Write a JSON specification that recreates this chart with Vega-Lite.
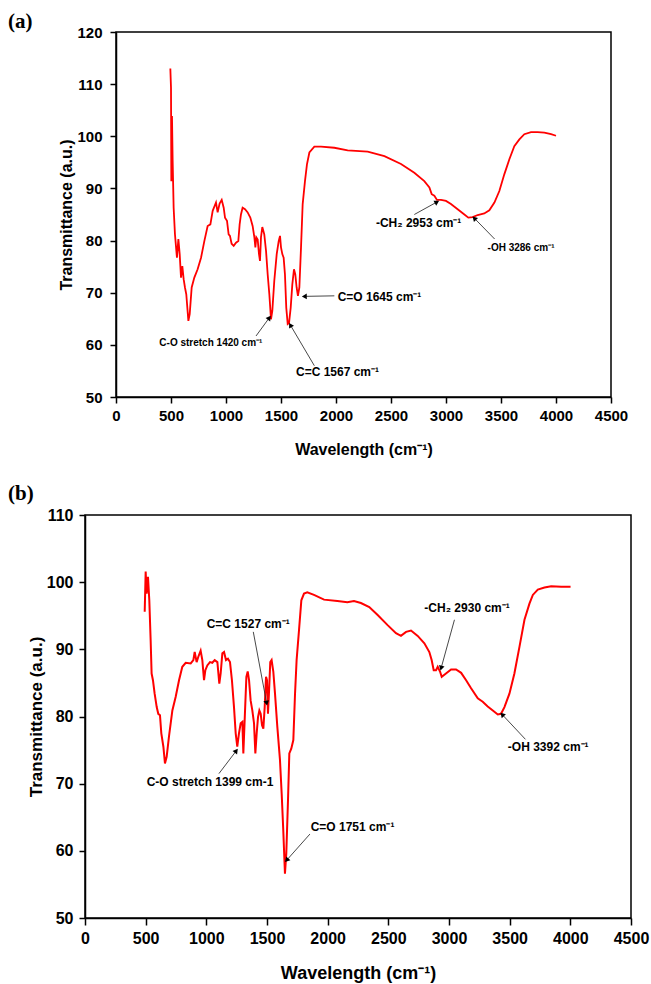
{
  "$schema": "https://vega.github.io/schema/vega-lite/v6.json",
  "background": "white",
  "padding": {"left": 6, "top": 10, "right": 5, "bottom": 0},
  "spacing": 24,
  "config": {
    "view": {"stroke": "black", "strokeWidth": 1.5},
    "axis": {"domainColor": "black", "domainWidth": 1.5, "tickColor": "black", "tickWidth": 1.5, "labelFont": "Liberation Sans", "labelFontWeight": "bold", "labelColor": "black", "titleFont": "Liberation Sans", "titleFontWeight": "bold", "titleColor": "black", "grid": false, "labelFlush": false, "labelOverlap": false, "format": "d"},
    "title": {"font": "Liberation Serif", "fontWeight": "bold", "fontSize": 21, "anchor": "start", "frame": "group", "color": "black"}
  },
  "datasets": {
    "empty": [],
    "specA": [
      {"wn": 494, "t": 113.0}, {"wn": 500, "t": 109.3}, {"wn": 503, "t": 91.4}, {"wn": 509, "t": 103.9}, {"wn": 515, "t": 95.3}, {"wn": 524, "t": 86.3}, {"wn": 536, "t": 81.2}, {"wn": 554, "t": 76.7}, {"wn": 567, "t": 80.3}, {"wn": 579, "t": 77.4}, {"wn": 591, "t": 72.9}, {"wn": 603, "t": 75.1}, {"wn": 615, "t": 72.6}, {"wn": 627, "t": 71.0}, {"wn": 639, "t": 69.7}, {"wn": 658, "t": 64.6}, {"wn": 670, "t": 65.9}, {"wn": 688, "t": 71.0}, {"wn": 712, "t": 72.9}, {"wn": 742, "t": 74.5}, {"wn": 773, "t": 76.7}, {"wn": 803, "t": 79.9}, {"wn": 833, "t": 82.8}, {"wn": 858, "t": 83.1}, {"wn": 879, "t": 85.7}, {"wn": 909, "t": 87.3}, {"wn": 924, "t": 85.4}, {"wn": 942, "t": 87.1}, {"wn": 961, "t": 87.8}, {"wn": 979, "t": 86.3}, {"wn": 991, "t": 84.4}, {"wn": 1009, "t": 83.8}, {"wn": 1024, "t": 81.2}, {"wn": 1036, "t": 80.9}, {"wn": 1051, "t": 79.4}, {"wn": 1070, "t": 79.0}, {"wn": 1091, "t": 79.6}, {"wn": 1112, "t": 79.9}, {"wn": 1124, "t": 83.1}, {"wn": 1136, "t": 85.0}, {"wn": 1151, "t": 86.3}, {"wn": 1173, "t": 86.0}, {"wn": 1197, "t": 85.4}, {"wn": 1221, "t": 84.4}, {"wn": 1242, "t": 82.8}, {"wn": 1258, "t": 80.6}, {"wn": 1267, "t": 78.7}, {"wn": 1276, "t": 80.6}, {"wn": 1288, "t": 80.2}, {"wn": 1300, "t": 77.4}, {"wn": 1309, "t": 76.1}, {"wn": 1318, "t": 80.6}, {"wn": 1330, "t": 82.6}, {"wn": 1348, "t": 81.2}, {"wn": 1364, "t": 78.0}, {"wn": 1379, "t": 73.5}, {"wn": 1394, "t": 69.7}, {"wn": 1409, "t": 64.9}, {"wn": 1421, "t": 66.5}, {"wn": 1439, "t": 72.3}, {"wn": 1461, "t": 77.4}, {"wn": 1479, "t": 79.9}, {"wn": 1491, "t": 80.9}, {"wn": 1500, "t": 78.7}, {"wn": 1512, "t": 77.4}, {"wn": 1524, "t": 76.7}, {"wn": 1536, "t": 73.5}, {"wn": 1548, "t": 67.1}, {"wn": 1561, "t": 64.0}, {"wn": 1573, "t": 64.2}, {"wn": 1588, "t": 67.1}, {"wn": 1603, "t": 71.6}, {"wn": 1618, "t": 74.5}, {"wn": 1630, "t": 73.5}, {"wn": 1642, "t": 71.0}, {"wn": 1654, "t": 69.4}, {"wn": 1667, "t": 71.0}, {"wn": 1682, "t": 78.7}, {"wn": 1697, "t": 87.0}, {"wn": 1718, "t": 91.4}, {"wn": 1736, "t": 94.6}, {"wn": 1758, "t": 96.9}, {"wn": 1803, "t": 98.0}, {"wn": 1864, "t": 98.0}, {"wn": 1985, "t": 97.8}, {"wn": 2106, "t": 97.3}, {"wn": 2288, "t": 97.05}, {"wn": 2440, "t": 96.2}, {"wn": 2591, "t": 94.7}, {"wn": 2712, "t": 93.0}, {"wn": 2803, "t": 91.4}, {"wn": 2849, "t": 90.2}, {"wn": 2870, "t": 88.9}, {"wn": 2894, "t": 88.6}, {"wn": 2918, "t": 87.8}, {"wn": 2955, "t": 87.8}, {"wn": 3000, "t": 87.6}, {"wn": 3045, "t": 87.0}, {"wn": 3106, "t": 86.0}, {"wn": 3167, "t": 85.0}, {"wn": 3203, "t": 84.4}, {"wn": 3243, "t": 84.5}, {"wn": 3288, "t": 84.9}, {"wn": 3348, "t": 85.2}, {"wn": 3394, "t": 85.8}, {"wn": 3440, "t": 87.3}, {"wn": 3485, "t": 89.5}, {"wn": 3530, "t": 92.7}, {"wn": 3576, "t": 95.6}, {"wn": 3621, "t": 98.1}, {"wn": 3667, "t": 99.4}, {"wn": 3712, "t": 100.4}, {"wn": 3773, "t": 100.8}, {"wn": 3833, "t": 100.8}, {"wn": 3894, "t": 100.7}, {"wn": 3955, "t": 100.4}, {"wn": 4000, "t": 100.1}
    ],
    "specB": [
      {"wn": 492, "t": 95.6}, {"wn": 500, "t": 101.6}, {"wn": 508, "t": 98.3}, {"wn": 519, "t": 100.8}, {"wn": 530, "t": 97.3}, {"wn": 541, "t": 91.4}, {"wn": 549, "t": 86.4}, {"wn": 560, "t": 85.4}, {"wn": 574, "t": 83.4}, {"wn": 591, "t": 81.4}, {"wn": 604, "t": 80.4}, {"wn": 618, "t": 80.2}, {"wn": 629, "t": 77.5}, {"wn": 646, "t": 75.5}, {"wn": 659, "t": 73.0}, {"wn": 673, "t": 74.0}, {"wn": 692, "t": 77.0}, {"wn": 720, "t": 80.9}, {"wn": 747, "t": 82.9}, {"wn": 775, "t": 85.4}, {"wn": 802, "t": 87.4}, {"wn": 830, "t": 88.0}, {"wn": 871, "t": 87.9}, {"wn": 893, "t": 88.4}, {"wn": 904, "t": 89.6}, {"wn": 920, "t": 88.1}, {"wn": 934, "t": 88.9}, {"wn": 953, "t": 89.8}, {"wn": 967, "t": 88.4}, {"wn": 981, "t": 85.4}, {"wn": 992, "t": 86.9}, {"wn": 1008, "t": 87.6}, {"wn": 1030, "t": 88.1}, {"wn": 1049, "t": 88.0}, {"wn": 1069, "t": 88.4}, {"wn": 1091, "t": 88.1}, {"wn": 1107, "t": 84.9}, {"wn": 1118, "t": 86.4}, {"wn": 1132, "t": 89.4}, {"wn": 1146, "t": 89.6}, {"wn": 1162, "t": 88.4}, {"wn": 1178, "t": 88.6}, {"wn": 1195, "t": 88.1}, {"wn": 1211, "t": 85.4}, {"wn": 1228, "t": 81.4}, {"wn": 1242, "t": 77.5}, {"wn": 1255, "t": 75.5}, {"wn": 1269, "t": 77.5}, {"wn": 1283, "t": 79.0}, {"wn": 1297, "t": 79.2}, {"wn": 1305, "t": 74.5}, {"wn": 1316, "t": 79.5}, {"wn": 1330, "t": 85.9}, {"wn": 1341, "t": 86.7}, {"wn": 1352, "t": 85.4}, {"wn": 1365, "t": 82.4}, {"wn": 1379, "t": 80.9}, {"wn": 1393, "t": 79.0}, {"wn": 1404, "t": 74.5}, {"wn": 1415, "t": 77.5}, {"wn": 1426, "t": 79.9}, {"wn": 1437, "t": 80.9}, {"wn": 1448, "t": 80.4}, {"wn": 1459, "t": 78.7}, {"wn": 1470, "t": 78.2}, {"wn": 1481, "t": 81.4}, {"wn": 1492, "t": 85.9}, {"wn": 1500, "t": 85.4}, {"wn": 1508, "t": 80.4}, {"wn": 1516, "t": 83.4}, {"wn": 1527, "t": 88.1}, {"wn": 1538, "t": 88.4}, {"wn": 1552, "t": 86.7}, {"wn": 1566, "t": 83.4}, {"wn": 1585, "t": 78.5}, {"wn": 1607, "t": 73.5}, {"wn": 1621, "t": 68.5}, {"wn": 1634, "t": 63.1}, {"wn": 1648, "t": 56.6}, {"wn": 1659, "t": 59.6}, {"wn": 1673, "t": 67.5}, {"wn": 1684, "t": 74.5}, {"wn": 1700, "t": 75.2}, {"wn": 1717, "t": 76.5}, {"wn": 1731, "t": 83.4}, {"wn": 1744, "t": 88.4}, {"wn": 1764, "t": 92.9}, {"wn": 1783, "t": 97.3}, {"wn": 1805, "t": 98.3}, {"wn": 1832, "t": 98.5}, {"wn": 1887, "t": 98.1}, {"wn": 1970, "t": 97.4}, {"wn": 2080, "t": 97.2}, {"wn": 2162, "t": 97.0}, {"wn": 2217, "t": 97.2}, {"wn": 2274, "t": 96.9}, {"wn": 2343, "t": 96.3}, {"wn": 2412, "t": 95.1}, {"wn": 2494, "t": 93.6}, {"wn": 2563, "t": 92.4}, {"wn": 2604, "t": 92.0}, {"wn": 2646, "t": 92.6}, {"wn": 2687, "t": 92.8}, {"wn": 2742, "t": 92.0}, {"wn": 2797, "t": 90.9}, {"wn": 2838, "t": 89.6}, {"wn": 2857, "t": 88.4}, {"wn": 2874, "t": 86.9}, {"wn": 2893, "t": 86.9}, {"wn": 2907, "t": 87.4}, {"wn": 2926, "t": 86.7}, {"wn": 2940, "t": 85.9}, {"wn": 2975, "t": 86.4}, {"wn": 3017, "t": 87.0}, {"wn": 3058, "t": 87.0}, {"wn": 3100, "t": 86.5}, {"wn": 3141, "t": 85.4}, {"wn": 3182, "t": 84.2}, {"wn": 3237, "t": 82.7}, {"wn": 3278, "t": 82.2}, {"wn": 3319, "t": 81.5}, {"wn": 3361, "t": 80.9}, {"wn": 3402, "t": 80.3}, {"wn": 3429, "t": 80.4}, {"wn": 3457, "t": 81.4}, {"wn": 3498, "t": 83.4}, {"wn": 3539, "t": 86.4}, {"wn": 3581, "t": 90.4}, {"wn": 3622, "t": 94.4}, {"wn": 3663, "t": 96.8}, {"wn": 3691, "t": 98.1}, {"wn": 3732, "t": 98.9}, {"wn": 3787, "t": 99.2}, {"wn": 3842, "t": 99.4}, {"wn": 3925, "t": 99.3}, {"wn": 4002, "t": 99.3}
    ],
    "annA": [
      {"label": "C-O stretch 1420 cm⁻¹", "kind": "small", "tx": 394, "ty": 60.4, "x1": 1273, "y1": 61.7, "x2": 1394, "y2": 65.2},
      {"label": "C=C 1567 cm⁻¹", "kind": "large", "tx": 1636, "ty": 54.7, "x1": 1803, "y1": 56.0, "x2": 1585, "y2": 63.8},
      {"label": "C=O 1645 cm⁻¹", "kind": "large", "tx": 2015, "ty": 69.1, "x1": 1985, "y1": 69.4, "x2": 1712, "y2": 69.3},
      {"label": "-CH₂ 2953 cm⁻¹", "kind": "large", "tx": 2363, "ty": 83.4, "x1": 2712, "y1": 85.0, "x2": 2918, "y2": 87.4},
      {"label": "-OH 3286 cm⁻¹", "kind": "small", "tx": 3378, "ty": 78.5, "x1": 3442, "y1": 80.3, "x2": 3257, "y2": 84.3}
    ],
    "annB": [
      {"label": "C=C 1527 cm⁻¹", "kind": "large", "tx": 1003, "ty": 93.8, "x1": 1387, "y1": 92.6, "x2": 1497, "y2": 82.0},
      {"label": "C-O stretch 1399 cm-1", "kind": "large", "tx": 508, "ty": 70.3, "x1": 1104, "y1": 71.5, "x2": 1247, "y2": 74.9},
      {"label": "C=O 1751 cm⁻¹", "kind": "large", "tx": 1860, "ty": 63.6, "x1": 1854, "y1": 62.5, "x2": 1662, "y2": 58.6},
      {"label": "-CH₂ 2930 cm⁻¹", "kind": "large", "tx": 2797, "ty": 96.1, "x1": 3045, "y1": 94.4, "x2": 2935, "y2": 87.2},
      {"label": "-OH 3392 cm⁻¹", "kind": "large", "tx": 3485, "ty": 75.5, "x1": 3630, "y1": 76.6, "x2": 3438, "y2": 80.3}
    ]
  },
  "vconcat": [
    {
      "spacing": 0,
      "hconcat": [
        {"data": {"name": "empty"}, "mark": "point", "width": 1, "height": 1, "view": {"stroke": null}},
        {
          "title": {"text": "(a)", "dx": -108, "offset": -7},
          "width": 495,
          "height": 365,
          "layer": [
            {
              "data": {"name": "specA"},
              "mark": {"type": "line", "color": "#ff0000", "strokeWidth": 1.8},
              "encoding": {
                "x": {"field": "wn", "type": "quantitative", "title": "Wavelength (cm⁻¹)", "scale": {"domain": [0, 4500], "nice": false, "zero": false},
                  "axis": {"values": [0,250,500,750,1000,1250,1500,1750,2000,2250,2500,2750,3000,3250,3500,3750,4000,4250,4500], "labelExpr": "datum.value % 500 === 0 ? datum.label : ''", "tickSize": {"condition": {"test": "datum.value % 500 !== 0", "value": 3}, "value": 6}, "labelFontSize": 15, "titleFontSize": 16, "labelPadding": 5, "titlePadding": 18}},
                "y": {"field": "t", "type": "quantitative", "title": "Transmittance (a.u.)", "scale": {"domain": [50, 120], "nice": false, "zero": false},
                  "axis": {"values": [50,55,60,65,70,75,80,85,90,95,100,105,110,115,120], "labelExpr": "datum.value % 10 === 0 ? datum.label : ''", "tickSize": {"condition": {"test": "datum.value % 10 !== 0", "value": 3}, "value": 6}, "labelFontSize": 15, "titleFontSize": 16, "labelPadding": 8, "titlePadding": 2}}
              }
            },
            {
              "data": {"name": "annA"},
              "mark": {"type": "rule", "color": "#333333", "strokeWidth": 0.9},
              "encoding": {
                "x": {"field": "x1", "type": "quantitative", "title": "Wavelength (cm⁻¹)"},
                "y": {"field": "y1", "type": "quantitative", "title": "Transmittance (a.u.)"},
                "x2": {"field": "x2"},
                "y2": {"field": "y2"}
              }
            },
            {
              "data": {"name": "annA"},
              "transform": [{"calculate": "atan2((datum.x2 - datum.x1) * 0.11, (datum.y2 - datum.y1) * 5.214) * 180 / PI", "as": "ang"}],
              "mark": {"type": "point", "shape": "triangle-up", "filled": true, "color": "black", "opacity": 1, "size": 32},
              "encoding": {
                "x": {"field": "x2", "type": "quantitative", "title": "Wavelength (cm⁻¹)"},
                "y": {"field": "y2", "type": "quantitative", "title": "Transmittance (a.u.)"},
                "angle": {"field": "ang", "type": "quantitative", "scale": null}
              }
            },
            {
              "data": {"name": "annA"},
              "mark": {"type": "text", "align": "left", "baseline": "middle", "font": "Liberation Sans", "fontWeight": "bold", "color": "black"},
              "encoding": {
                "x": {"field": "tx", "type": "quantitative", "title": "Wavelength (cm⁻¹)"},
                "y": {"field": "ty", "type": "quantitative", "title": "Transmittance (a.u.)"},
                "text": {"field": "label"},
                "size": {"field": "kind", "type": "nominal", "scale": {"domain": ["small", "large"], "range": [10, 12]}, "legend": null}
              }
            }
          ]
        }
      ]
    },
    {
      "spacing": 0,
      "hconcat": [
        {"data": {"name": "empty"}, "mark": "point", "width": 1, "height": 1, "view": {"stroke": null}},
        {
          "title": {"text": "(b)", "dx": -77, "offset": 3},
          "width": 546,
          "height": 403,
          "layer": [
            {
              "data": {"name": "specB"},
              "mark": {"type": "line", "color": "#ff0000", "strokeWidth": 2},
              "encoding": {
                "x": {"field": "wn", "type": "quantitative", "title": "Wavelength (cm⁻¹)", "scale": {"domain": [0, 4500], "nice": false, "zero": false},
                  "axis": {"values": [0,250,500,750,1000,1250,1500,1750,2000,2250,2500,2750,3000,3250,3500,3750,4000,4250,4500], "labelExpr": "datum.value % 500 === 0 ? datum.label : ''", "tickSize": {"condition": {"test": "datum.value % 500 !== 0", "value": 3}, "value": 7}, "labelFontSize": 16, "titleFontSize": 18, "labelPadding": 5, "titlePadding": 18}},
                "y": {"field": "t", "type": "quantitative", "title": "Transmittance (a.u.)", "scale": {"domain": [50, 110], "nice": false, "zero": false},
                  "axis": {"values": [50,55,60,65,70,75,80,85,90,95,100,105,110], "labelExpr": "datum.value % 10 === 0 ? datum.label : ''", "tickSize": {"condition": {"test": "datum.value % 10 !== 0", "value": 3}, "value": 6}, "labelFontSize": 16, "titleFontSize": 17, "labelPadding": 6, "titlePadding": 1}}
              }
            },
            {
              "data": {"name": "annB"},
              "mark": {"type": "rule", "color": "#333333", "strokeWidth": 0.9},
              "encoding": {
                "x": {"field": "x1", "type": "quantitative", "title": "Wavelength (cm⁻¹)"},
                "y": {"field": "y1", "type": "quantitative", "title": "Transmittance (a.u.)"},
                "x2": {"field": "x2"},
                "y2": {"field": "y2"}
              }
            },
            {
              "data": {"name": "annB"},
              "transform": [{"calculate": "atan2((datum.x2 - datum.x1) * 0.1213, (datum.y2 - datum.y1) * 6.717) * 180 / PI", "as": "ang"}],
              "mark": {"type": "point", "shape": "triangle-up", "filled": true, "color": "black", "opacity": 1, "size": 32},
              "encoding": {
                "x": {"field": "x2", "type": "quantitative", "title": "Wavelength (cm⁻¹)"},
                "y": {"field": "y2", "type": "quantitative", "title": "Transmittance (a.u.)"},
                "angle": {"field": "ang", "type": "quantitative", "scale": null}
              }
            },
            {
              "data": {"name": "annB"},
              "mark": {"type": "text", "align": "left", "baseline": "middle", "font": "Liberation Sans", "fontWeight": "bold", "color": "black"},
              "encoding": {
                "x": {"field": "tx", "type": "quantitative", "title": "Wavelength (cm⁻¹)"},
                "y": {"field": "ty", "type": "quantitative", "title": "Transmittance (a.u.)"},
                "text": {"field": "label"},
                "size": {"field": "kind", "type": "nominal", "scale": {"domain": ["small", "large"], "range": [12, 12]}, "legend": null}
              }
            }
          ]
        }
      ]
    }
  ]
}
